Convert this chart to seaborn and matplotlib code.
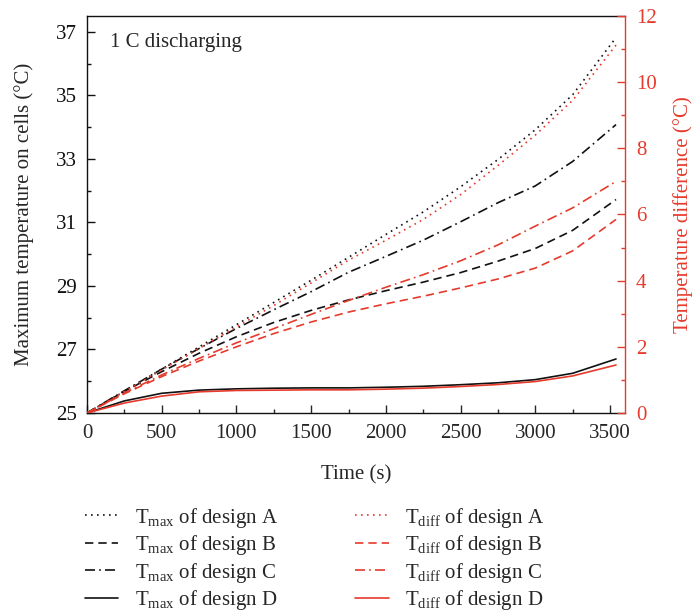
import numpy as np
import pandas as pd
import matplotlib
matplotlib.use("Agg")
import matplotlib.pyplot as plt
from matplotlib.ticker import MultipleLocator
import seaborn as sns

time = [0, 250, 500, 750, 1000, 1250, 1500, 1750, 2000, 2250, 2500, 2750, 3000, 3250, 3540]

tmax_A = [25.0, 25.68, 26.38, 27.08, 27.78, 28.48, 29.18, 29.90, 30.62, 31.33, 32.12, 32.98, 33.92, 35.02, 36.82]
tmax_B = [25.0, 25.68, 26.30, 26.88, 27.40, 27.85, 28.23, 28.56, 28.85, 29.12, 29.42, 29.78, 30.18, 30.75, 31.72]
tmax_C = [25.0, 25.70, 26.38, 27.03, 27.66, 28.25, 28.82, 29.43, 29.93, 30.44, 31.02, 31.62, 32.15, 32.92, 34.08]
tmax_D = [25.0, 25.38, 25.62, 25.72, 25.76, 25.78, 25.79, 25.79, 25.81, 25.84, 25.89, 25.95, 26.05, 26.25, 26.70]

tdiff_A = [0.0, 0.65, 1.30, 1.95, 2.60, 3.25, 3.93, 4.62, 5.22, 5.85, 6.60, 7.48, 8.40, 9.45, 11.12]
tdiff_B = [0.0, 0.58, 1.10, 1.57, 2.00, 2.40, 2.75, 3.05, 3.30, 3.53, 3.78, 4.05, 4.38, 4.90, 5.85]
tdiff_C = [0.0, 0.60, 1.15, 1.65, 2.12, 2.55, 2.98, 3.40, 3.80, 4.18, 4.60, 5.08, 5.65, 6.20, 7.00]
tdiff_D = [0.0, 0.30, 0.51, 0.64, 0.68, 0.69, 0.70, 0.70, 0.72, 0.75, 0.80, 0.86, 0.95, 1.12, 1.45]

designs = ["A", "B", "C", "D"]
x_ticks = [0, 500, 1000, 1500, 2000, 2500, 3000, 3500]
left_ticks = [25, 27, 29, 31, 33, 35, 37]
right_ticks = [0, 2, 4, 6, 8, 10, 12]

sns.set_style("ticks")
plt.rcParams["font.family"] = ["Liberation Serif", "DejaVu Serif"]
plt.rcParams["mathtext.fontset"] = "custom"
plt.rcParams["mathtext.rm"] = "Liberation Serif"
plt.rcParams["mathtext.it"] = "Liberation Serif:italic"

RED = "#e63a2c"
BLACK = "#111111"
styles = [(0, (1, 2.6)), (0, (5, 3)), (0, (6, 2.5, 1, 2.5)), "-"]

fig = plt.figure(figsize=(6.98, 6.12), dpi=100)
ax = fig.add_axes([0.1246, 0.3252, 0.8954 - 0.1246, 0.9739 - 0.3252])
ax2 = ax.twinx()

handles = []
labels = []
for d, ys, ls in zip(designs, [tmax_A, tmax_B, tmax_C, tmax_D], styles):
    sns.lineplot(x=time, y=ys, ax=ax, color=BLACK, linestyle=ls, linewidth=1.2)
    handles.append(ax.lines[-1])
    labels.append(r"T$_{\rm max}$ of design " + d)
for d, ys, ls in zip(designs, [tdiff_A, tdiff_B, tdiff_C, tdiff_D], styles):
    sns.lineplot(x=time, y=ys, ax=ax2, color=RED, linestyle=ls, linewidth=1.2)
    handles.append(ax2.lines[-1])
    labels.append(r"T$_{\rm diff}$ of design " + d)

ax.set_xlim(0, 3600)
ax.set_ylim(25, 37.5)
ax2.set_ylim(0, 12)
ax.set_xticks(x_ticks)
ax.set_yticks(left_ticks)
ax2.set_yticks(right_ticks)
ax.xaxis.set_minor_locator(MultipleLocator(250))
ax.yaxis.set_minor_locator(MultipleLocator(1))
ax2.yaxis.set_minor_locator(MultipleLocator(1))

for a in (ax, ax2):
    a.tick_params(which="major", direction="in", length=5.5, width=1.0, labelsize=15, pad=7)
    a.tick_params(which="minor", direction="in", length=3, width=1.0)
ax.tick_params(axis="x", which="both", top=False, pad=8)
ax.tick_params(axis="y", which="both", right=False, colors=BLACK)
ax2.tick_params(axis="y", which="both", colors=RED, pad=8)

for s in ax.spines.values():
    s.set_linewidth(1.0)
    s.set_color(BLACK)
ax.spines["right"].set_visible(False)
for name, s in ax2.spines.items():
    s.set_visible(name == "right")
ax2.spines["right"].set_color(RED)
ax2.spines["right"].set_linewidth(1.0)

ax.set_xlabel("Time (s)", fontsize=15, labelpad=16)
ax.set_ylabel("Maximum temperature on cells (°C)", fontsize=15, labelpad=16)
ax2.set_ylabel("Temperature difference (°C)", fontsize=15, color=RED, labelpad=12)

ax.text(0.043, 0.932, "1 C discharging", transform=ax.transAxes, fontsize=15,
        va="center", ha="left")

fig.legend(handles, labels, ncol=2, loc="upper left", bbox_to_anchor=(0.122, 0.174),
           frameon=False, fontsize=15, handlelength=1.6, handletextpad=0.8,
           columnspacing=3.7, labelspacing=0.17, borderaxespad=0, borderpad=0)

fig.savefig("out.png", dpi=100)
